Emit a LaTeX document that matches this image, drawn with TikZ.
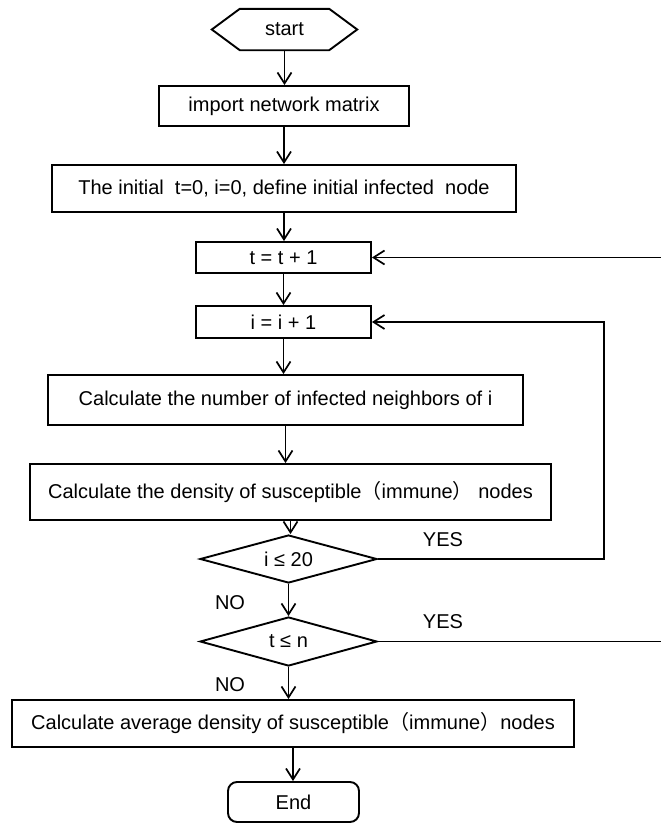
\documentclass[tikz,border=0pt]{standalone}
\usepackage{fontspec}
\setmainfont{Liberation Sans}
\newfontfamily\cjk{Noto Sans CJK SC}
\usetikzlibrary{arrows.meta,shapes.geometric}
\newcommand{\lpar}{{\cjk （}}
\newcommand{\rpar}{{\cjk ）}}
\begin{document}
\begin{tikzpicture}[x=1pt,y=-1pt,
  txt/.style={inner sep=0pt, font=\fontsize{20}{23}\selectfont},
  box/.style={txt, draw, line width=1.9pt},
  lw/.style={line width=1.8pt},
  arr/.style={line width=1.7pt, -{Straight Barb[length=11pt,width=14pt]}}]
\useasboundingbox (0,0) rectangle (661,823);

\node[txt, minimum width=145pt, minimum height=41pt] (start) at (284.5,29.5) {start};
\draw[lw, line width=1.9pt, line join=miter] (start.west) -- ([xshift=28pt]start.north west) -- ([xshift=-28pt]start.north east) -- (start.east) -- ([xshift=-28pt]start.south east) -- ([xshift=28pt]start.south west) -- cycle;

\node[box, minimum width=250pt, minimum height=40pt] (imp) at (284,106) {import network matrix};
\node[box, minimum width=464pt, minimum height=47pt] (init) at (284,188.5) {The initial \ t=0, i=0, define initial infected \ node};
\node[box, minimum width=175pt, minimum height=31pt] (tbox) at (283.5,257.5) {t = t + 1};
\node[box, minimum width=175pt, minimum height=32pt] (ibox) at (283.5,322) {i = i + 1};
\node[box, minimum width=475pt, minimum height=50pt] (nb) at (285.5,400) {Calculate the number of infected neighbors of i};
\node[box, minimum width=521pt, minimum height=56pt] (dens) at (290.5,492) {Calculate the density of susceptible\lpar immune\rpar\ nodes};
\node[box, diamond, aspect=3.7, minimum width=177pt, minimum height=48pt] (d1) at (288.5,559) {i ≤ 20};
\node[box, diamond, aspect=3.6, minimum width=177pt, minimum height=49pt] (d2) at (288.5,641.5) {t ≤ n};
\node[box, minimum width=562pt, minimum height=47pt] (fin) at (293,723.5) {Calculate average density of susceptible\lpar immune\rpar nodes};
\node[box, rounded corners=9pt, minimum width=131pt, minimum height=40pt] (endn) at (293.5,802) {End};

\node[txt] (yes1) at (443,540) {YES};
\node[txt] (yes2) at (443,622) {YES};
\node[txt] (no1) at (230,603) {NO};
\node[txt] (no2) at (230,685) {NO};

\coordinate (tR) at (661,257.5);
\coordinate (iR) at (604,559);
\coordinate (dR) at (661,641.5);

\draw[arr] (start.south) -- (start.south |- imp.north);
\draw[arr] (imp.south) -- (imp.south |- init.north);
\draw[arr] (init.south) -- (init.south |- tbox.north);
\draw[arr] (tbox.south) -- (tbox.south |- ibox.north);
\draw[arr] (ibox.south) -- (ibox.south |- nb.north);
\draw[arr] (nb.south) -- (nb.south |- dens.north);
\draw[arr] (dens.south) -- (dens.south |- d1.north);
\draw[arr] (d1.south) -- (d1.south |- d2.north);
\draw[arr] (d2.south) -- (d2.south |- fin.north);
\draw[arr] (fin.south) -- (fin.south |- endn.north);

\draw[arr] (tR) -- (tbox.east);
\draw[arr] (d1.east) -- (iR) |- (ibox.east);
\draw[lw] (d2.east) -- (dR);
\end{tikzpicture}
\end{document}
